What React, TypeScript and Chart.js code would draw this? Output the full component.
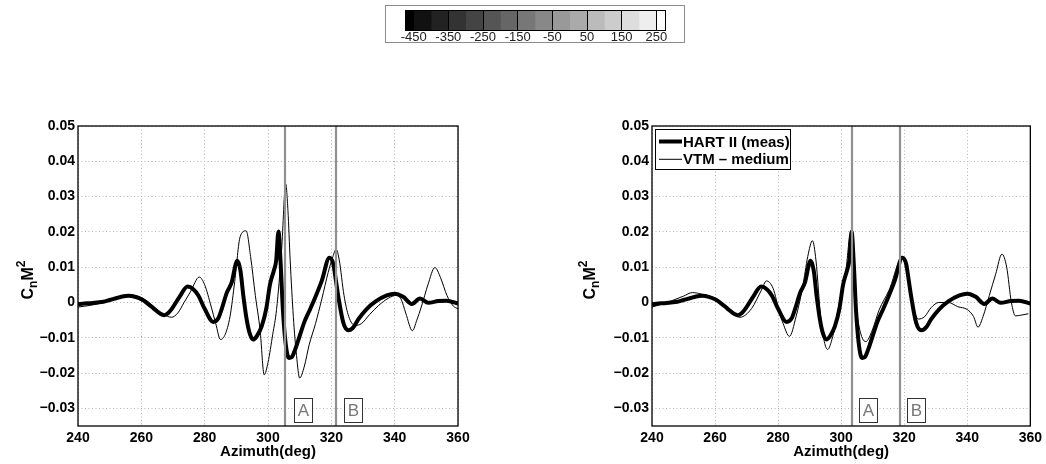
import React, { useEffect, useRef } from "react";
import { Chart, registerables } from "chart.js";

Chart.register(...registerables);

const FONT = '"Liberation Sans", Arial, Helvetica, sans-serif';
Chart.defaults.font.family = FONT;

// ---------- HART II measured (thick, both panels) ----------
const measAz = [
  240, 242, 244, 246, 248, 250, 252, 254, 256, 258,
  260, 262, 264, 266, 267.2, 268.5, 270, 272, 274.6, 276.5,
  278, 280, 282.7, 284.3, 285.5, 287, 288.5, 290.3, 291.3, 292.2,
  293.3, 294.3, 295.3, 296.5, 298, 299.5, 300.6, 301.9, 302.6, 303.3,
  304, 304.7, 305.6, 306.6, 307.5, 308.5, 310, 311.5, 313, 314.8,
  317, 319.4, 320.6, 321.4, 322.2, 323.8, 325.4, 327, 328.5, 331,
  334, 337.5, 340, 342.7, 345.4, 348, 350.6, 353.8, 356.4, 360,
];
const measCn = [
  -0.0005, -0.0003, -0.0002, 0.0, 0.0002, 0.0007, 0.0012, 0.0017, 0.0019, 0.0016,
  0.0009, -0.0003, -0.0018, -0.0032, -0.0036, -0.003, -0.0013, 0.0015, 0.0045, 0.0037,
  0.002, -0.0018, -0.0055, -0.0045, -0.0015, 0.0028, 0.0056, 0.0118, 0.009, 0.002,
  -0.005, -0.009, -0.0105, -0.0095, -0.0068, -0.0015, 0.005, 0.0092, 0.012, 0.0201,
  0.011, -0.002, -0.0118, -0.0157, -0.0155, -0.0135, -0.0095, -0.0055, -0.0025, 0.0012,
  0.0062, 0.0127, 0.011, 0.0065, 0.0017, -0.0058, -0.0079, -0.007, -0.0048, -0.002,
  0.0003, 0.002, 0.0025, 0.0016, -0.0004, 0.0011, -0.0001, 0.0004, 0.0005, -0.0003,
];

// ---------- VTM coarse (thin, left panel) ----------
const coarseAz = [
  240, 244, 248, 252, 256, 259, 262, 265, 267, 269.5,
  271.5, 273.5, 275.5, 278.3, 280, 282, 283.5, 285, 286.5, 288,
  289.5, 291.2, 293.1, 294.5, 296, 297.5, 298.8, 300, 301.5, 302.7,
  304.3, 305.6, 306.3, 307, 308, 309, 310, 311.5, 313, 315,
  317, 319, 320.5, 321.5, 322.5, 324, 325.5, 327.5, 329.5, 332,
  335, 338, 340.5, 342, 343.5, 345.6, 347, 348.5, 350.5, 352.7,
  354.5, 356.5, 358.5, 360,
];
const coarseCn = [
  -0.0013, -0.0008, 0.0, 0.0012, 0.0022, 0.0018, 0.0003, -0.002, -0.0033, -0.0042,
  -0.003, 0.0, 0.003, 0.0072, 0.005, -0.001, -0.006, -0.0105, -0.009, -0.004,
  0.006, 0.0186, 0.0203, 0.013, 0.002, -0.0078, -0.0205, -0.017, -0.009, -0.002,
  0.015, 0.0336, 0.026, 0.012, -0.004, -0.015, -0.0214, -0.018, -0.012, -0.006,
  0.001, 0.0085, 0.013, 0.0151, 0.012, 0.002, -0.004, -0.0065, -0.006, -0.0035,
  -0.0008, 0.0012, 0.002, 0.001, -0.003, -0.008, -0.005, -0.001, 0.005, 0.0099,
  0.007, 0.002, -0.001, -0.0018,
];

// ---------- VTM medium (thin, right panel) ----------
const mediumAz = [
  240, 243, 246.3, 250, 252.8, 256, 260, 264.2, 267.9, 271.6,
  274.7, 276.3, 278.4, 280.5, 281.6, 283.6, 285.7, 287.8, 289.4, 290.9,
  292, 293.6, 295.7, 297.3, 299.4, 301.5, 302.9, 304.1, 305.7, 307.8,
  309.9, 312, 315.2, 319.3, 320.8, 322.5, 324.5, 326.5, 328.5, 331,
  334, 337, 340, 342, 343.4, 345, 347, 349, 351, 352.5,
  354, 355.3, 357, 359.4,
];
const mediumCn = [
  -0.0013, -0.0005, 0.0005, 0.0018, 0.0028, 0.0023, 0.0011, -0.002, -0.0042, -0.0017,
  0.0035, 0.0061, 0.004, -0.003, -0.006, -0.0096, -0.004, 0.0044, 0.013, 0.0175,
  0.012, -0.005, -0.0133, -0.0097, -0.0003, 0.009, 0.019, 0.0044, -0.0069, -0.0111,
  -0.0078, -0.0022, 0.0035, 0.0125, 0.009, 0.0, -0.0047, -0.004, -0.0015, 0.0,
  0.0, -0.0012, -0.002, -0.004, -0.007, -0.004, 0.002, 0.008, 0.0137, 0.01,
  0.0, -0.0038, -0.0036, -0.0032,
];

// ---------- axes ----------
const xMin = 240;
const xMax = 360;
const xTicks = [240, 260, 280, 300, 320, 340, 360];
const yMin = -0.035;
const yMax = 0.05;
const yTicks = [-0.03, -0.02, -0.01, 0, 0.01, 0.02, 0.03, 0.04, 0.05];

// ---------- markers A / B ----------
const markerNames = ["A", "B"];
const leftMarkers = [305.4, 321.5];
const rightMarkers = [303.4, 318.8];
const leftMarkerLabelAz = [310.9, 326.8];
const rightMarkerLabelAz = [308.4, 323.6];
const markerLabelCn = -0.0305;

const legendLabels = ["HART II (meas)", "VTM \u2013 medium"];

// ---------- colour bar ----------
const cbEdges = [-475, -450, -400, -350, -300, -250, -200, -150, -100, -50, 0, 50, 100, 150, 200, 250, 275];
const cbColors = [
  "#000000", "#111111", "#222222", "#333333", "#444444", "#555555", "#666666", "#777777",
  "#888888", "#999999", "#aaaaaa", "#bbbbbb", "#cccccc", "#dddddd", "#eeeeee", "#ffffff",
];
const cbTicks = [-450, -350, -250, -150, -50, 50, 150, 250];

function fmtY(v: number) {
  const r = Math.round(v * 1000) / 1000;
  if (r === 0) return "0";
  return (r < 0 ? "\u2212" : "") + Math.abs(r).toFixed(2);
}

type Series = { az: number[]; cn: number[]; width: number };

type PlotProps = {
  left: number;
  top: number;
  width: number;
  height: number;
  yAxisWidth: number;
  rightPad: number;
  yTitleX: number;
  series: Series[];
  markers: number[];
  markerLabelAz: number[];
  legend: boolean;
};

function CnPlot(p: PlotProps) {
  const ref = useRef<HTMLCanvasElement | null>(null);
  useEffect(() => {
    if (!ref.current) return;
    const extras = {
      id: "extras",
      afterDatasetsDraw(chart: any) {
        const { ctx, chartArea: a, scales } = chart;
        const xs = scales.x;
        const ys = scales.y;
        ctx.save();
        // vertical marker lines
        ctx.strokeStyle = "#909090";
        ctx.lineWidth = 2.2;
        p.markers.forEach((m) => {
          const px = Math.round(xs.getPixelForValue(m));
          ctx.beginPath();
          ctx.moveTo(px, a.top);
          ctx.lineTo(px, a.bottom);
          ctx.stroke();
        });
        // marker label boxes
        p.markerLabelAz.forEach((az, i) => {
          const cx = Math.round(xs.getPixelForValue(az));
          const cy = Math.round(ys.getPixelForValue(markerLabelCn));
          ctx.fillStyle = "#fff";
          ctx.fillRect(cx - 9, cy - 12, 18, 24);
          ctx.strokeStyle = "#333";
          ctx.lineWidth = 1;
          ctx.strokeRect(cx - 9 + 0.5, cy - 12 + 0.5, 18, 24);
          ctx.fillStyle = "#777";
          ctx.font = `17px ${FONT}`;
          ctx.textAlign = "center";
          ctx.textBaseline = "middle";
          ctx.fillText(markerNames[i], cx + 0.5, cy + 1.5);
        });
        // frame
        ctx.strokeStyle = "#000";
        ctx.lineWidth = 1.3;
        ctx.strokeRect(a.left, a.top, a.right - a.left, a.bottom - a.top);
        // legend
        if (p.legend) {
          const bx = Math.round(a.left) + 3;
          const by = Math.round(a.top) + 3;
          const bw = 135;
          const bh = 40;
          ctx.fillStyle = "#fff";
          ctx.fillRect(bx, by, bw, bh);
          ctx.strokeStyle = "#000";
          ctx.lineWidth = 1;
          ctx.strokeRect(bx + 0.5, by + 0.5, bw, bh);
          const widths = [4, 1];
          legendLabels.forEach((lab, i) => {
            const ry = by + 12.5 + i * 17.8;
            ctx.strokeStyle = "#000";
            ctx.lineWidth = widths[i];
            ctx.beginPath();
            ctx.moveTo(bx + 4, ry);
            ctx.lineTo(bx + 27, ry);
            ctx.stroke();
            ctx.fillStyle = "#000";
            ctx.font = `bold 15px ${FONT}`;
            ctx.textAlign = "left";
            ctx.textBaseline = "middle";
            ctx.fillText(lab, bx + 28, ry + 1);
          });
        }
        // x title
        ctx.fillStyle = "#000";
        ctx.font = `bold 15px ${FONT}`;
        ctx.textAlign = "center";
        ctx.textBaseline = "middle";
        ctx.fillText("Azimuth(deg)", (a.left + a.right) / 2, a.bottom + 26);
        // y title  C_n M^2
        ctx.translate(p.yTitleX, (a.top + a.bottom) / 2);
        ctx.rotate(-Math.PI / 2);
        const big = `bold 16px ${FONT}`;
        const small = `bold 12px ${FONT}`;
        ctx.textAlign = "left";
        ctx.textBaseline = "alphabetic";
        ctx.font = big;
        const wC = ctx.measureText("C").width;
        const wM = ctx.measureText("M").width;
        ctx.font = small;
        const wn = ctx.measureText("n").width;
        const w2 = ctx.measureText("2").width;
        const total = wC + wn + wM + w2;
        const x0 = -total / 2 - 4;
        ctx.font = big;
        ctx.fillText("C", x0, 0);
        ctx.fillText("M", x0 + wC + wn, 0);
        ctx.font = small;
        ctx.fillText("n", x0 + wC, 4);
        ctx.fillText("2", x0 + wC + wn + wM, -8);
        ctx.restore();
      },
    };

    const chart = new Chart(ref.current, {
      type: "line",
      data: {
        datasets: p.series.map((s) => ({
          data: s.az.map((x, i) => ({ x, y: s.cn[i] })),
          borderColor: "#000",
          borderWidth: s.width,
          pointRadius: 0,
          fill: false,
          cubicInterpolationMode: "monotone",
        })),
      },
      options: {
        animation: false,
        responsive: false,
        layout: { padding: { top: 16, right: p.rightPad, left: 0, bottom: 0 } },
        plugins: { legend: { display: false }, tooltip: { enabled: false } },
        scales: {
          x: {
            type: "linear",
            min: xMin,
            max: xMax,
            afterBuildTicks: (s: any) => {
              s.ticks = xTicks.map((value) => ({ value }));
            },
            afterFit: (s: any) => {
              s.height = 38;
            },
            grid: { color: "#b4b4b4", drawTicks: false, lineWidth: 1 },
            border: { display: false, dash: [1, 2.5] },
            ticks: {
              padding: 4,
              color: "#000",
              font: { size: 14, weight: "bold" },
              maxRotation: 0,
              autoSkip: false,
            },
          },
          y: {
            type: "linear",
            min: yMin,
            max: yMax,
            afterBuildTicks: (s: any) => {
              s.ticks = yTicks.map((value) => ({ value }));
            },
            afterFit: (s: any) => {
              s.width = p.yAxisWidth;
            },
            grid: { color: "#b4b4b4", drawTicks: false, lineWidth: 1 },
            border: { display: false, dash: [1, 2.5] },
            ticks: {
              padding: 3,
              color: "#000",
              font: { size: 14, weight: "bold" },
              callback: (v: any) => fmtY(Number(v)),
            },
          },
        },
      } as any,
      plugins: [extras],
    });
    return () => chart.destroy();
  }, []);
  return (
    <canvas
      ref={ref}
      width={p.width}
      height={p.height}
      style={{ position: "absolute", left: p.left, top: p.top, width: p.width, height: p.height, display: "block" }}
    />
  );
}

function ColorBar() {
  const ref = useRef<HTMLCanvasElement | null>(null);
  useEffect(() => {
    if (!ref.current) return;
    const frame = {
      id: "cbframe",
      beforeDraw(chart: any) {
        const { ctx, width, height } = chart;
        ctx.save();
        ctx.fillStyle = "#fff";
        ctx.fillRect(0, 0, width, height);
        ctx.strokeStyle = "#8c8c8c";
        ctx.lineWidth = 1;
        ctx.strokeRect(0.5, 0.5, width - 1, height - 1);
        ctx.restore();
      },
      afterDraw(chart: any) {
        const { ctx, chartArea: a } = chart;
        ctx.save();
        ctx.strokeStyle = "#000";
        ctx.lineWidth = 1;
        ctx.strokeRect(Math.round(a.left) + 0.5, Math.round(a.top) + 0.5, Math.round(a.right - a.left), Math.round(a.bottom - a.top));
        ctx.restore();
      },
    };
    const chart = new Chart(ref.current, {
      type: "bar",
      data: {
        labels: [""],
        datasets: cbColors.map((c, i) => ({
          data: [[cbEdges[i], cbEdges[i + 1]]],
          backgroundColor: c,
          borderWidth: 0,
          barPercentage: 1,
          categoryPercentage: 1,
          grouped: false,
        })),
      } as any,
      options: {
        indexAxis: "y",
        animation: false,
        responsive: false,
        layout: { padding: { left: 20, right: 20, top: 5, bottom: 0 } },
        plugins: { legend: { display: false }, tooltip: { enabled: false } },
        scales: {
          x: {
            type: "linear",
            min: cbEdges[0],
            max: cbEdges[cbEdges.length - 1],
            afterBuildTicks: (s: any) => {
              s.ticks = cbTicks.map((value) => ({ value }));
            },
            afterFit: (s: any) => {
              s.height = 13;
            },
            grid: { z: 1, color: "#000", drawTicks: false, lineWidth: 1 },
            border: { display: false },
            ticks: {
              padding: 0,
              color: "#222",
              font: { size: 13 },
              maxRotation: 0,
              autoSkip: false,
              callback: (v: any) => String(v),
            },
          },
          y: { display: false },
        },
      } as any,
      plugins: [frame],
    });
    return () => chart.destroy();
  }, []);
  return (
    <canvas
      ref={ref}
      width={300}
      height={38}
      style={{ position: "absolute", left: 385, top: 5, width: 300, height: 38, display: "block" }}
    />
  );
}

export default function App() {
  return (
    <div style={{ position: "absolute", left: 0, top: 0, width: 1046, height: 464, background: "#fff", overflow: "hidden" }}>
      <ColorBar />
      <CnPlot
        left={0}
        top={110}
        width={478}
        height={354}
        yAxisWidth={78}
        rightPad={20}
        yTitleX={33}
        series={[
          { az: coarseAz, cn: coarseCn, width: 1 },
          { az: measAz, cn: measCn, width: 4 },
        ]}
        markers={leftMarkers}
        markerLabelAz={leftMarkerLabelAz}
        legend={false}
      />
      <CnPlot
        left={520}
        top={110}
        width={526}
        height={354}
        yAxisWidth={132}
        rightPad={14}
        yTitleX={75}
        series={[
          { az: mediumAz, cn: mediumCn, width: 1 },
          { az: measAz, cn: measCn, width: 4 },
        ]}
        markers={rightMarkers}
        markerLabelAz={rightMarkerLabelAz}
        legend={true}
      />
    </div>
  );
}
